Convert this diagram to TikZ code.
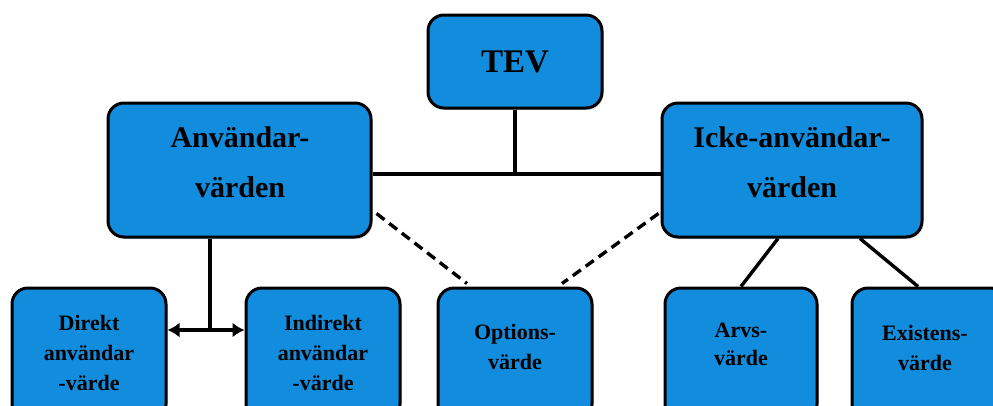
\documentclass[tikz,border=0pt]{standalone}
\usepackage{fontspec}
\setmainfont{Liberation Serif}
\usetikzlibrary{shadows,arrows.meta,calc}
\definecolor{boxblue}{RGB}{18,140,220}
\tikzset{
  box/.style={draw=black, line width=3pt, fill=boxblue, rounded corners=16pt,
    drop shadow={opacity=0.3, shadow xshift=1.5pt, shadow yshift=-2pt}},
  bigtxt/.style={align=center, text=black, font=\bfseries\fontsize{30}{50}\selectfont},
  smalltxt/.style={align=center, text=black, font=\bfseries\fontsize{22}{30}\selectfont},
  link/.style={line width=3.4pt},
  optlink/.style={line width=3.4pt, dash pattern=on 10pt off 6pt},
}
\begin{document}
\begin{tikzpicture}[x=1pt,y=-1pt]
\useasboundingbox (0,0) rectangle (993,405);
\clip (0,0) rectangle (993,405);

% boxes
\node[box, minimum width=174pt, minimum height=93pt] (tev) at (515,61.5) {};
\node[box, minimum width=263pt, minimum height=134pt] (anv) at (239.5,170) {};
\node[box, minimum width=260pt, minimum height=134pt] (icke) at (792,170) {};
\node[box, minimum width=154pt, minimum height=132pt] (dir) at (89,354) {};
\node[box, minimum width=154pt, minimum height=132pt] (ind) at (323,354) {};
\node[box, minimum width=154pt, minimum height=132pt] (opt) at (515,354) {};
\node[box, minimum width=152pt, minimum height=132pt] (arv) at (741,354) {};
\node[box, minimum width=154pt, minimum height=132pt] (ex) at (929,354) {};

% labels
\node[text=black, font=\bfseries\fontsize{33}{40}\selectfont] (tevtxt) at (tev.center) {TEV};
\node[bigtxt] (anvtxt) at (240,162) {Användar-\\värden};
\node[bigtxt] (icketxt) at (792,162) {Icke-användar-\\värden};
\node[smalltxt] (dirtxt) at (89,353) {Direkt\\användar\\-värde};
\node[smalltxt] (indtxt) at (323,353) {Indirekt\\användar\\-värde};
\node[smalltxt] (opttxt) at (515,347) {Options-\\värde};
\node[smalltxt, font=\bfseries\fontsize{22}{28}\selectfont] (arvtxt) at (741,344) {Arvs-\\värde};
\node[smalltxt] (extxt) at (925,348) {Existens-\\värde};

% connectors
\coordinate (bar) at (0,174);
\draw[link] (tev.south) -- (tev.south |- bar);
\draw[link] (anv.east |- bar) -- (icke.west |- bar);
\draw[optlink] ($(anv.south east)+(4,-25)$) -- ($(opt.north)+(-48,-3)$);
\draw[optlink] ($(icke.south west)+(-2,-25)$) -- ($(opt.north)+(47,-3)$);

\coordinate (junc) at (210,330);
\draw[link] (anv.south -| junc) -- (junc);
\draw[link, {Latex[length=12pt,width=15pt]}-{Latex[length=12pt,width=15pt]}]
  (dir.east |- junc) -- (ind.west |- junc);

\draw[link] ($(icke.south)+(-14,0)$) -- (arv.north);
\draw[link] ($(icke.south)+(68,0)$) -- ($(ex.north)+(-11,0)$);
\end{tikzpicture}
\end{document}
